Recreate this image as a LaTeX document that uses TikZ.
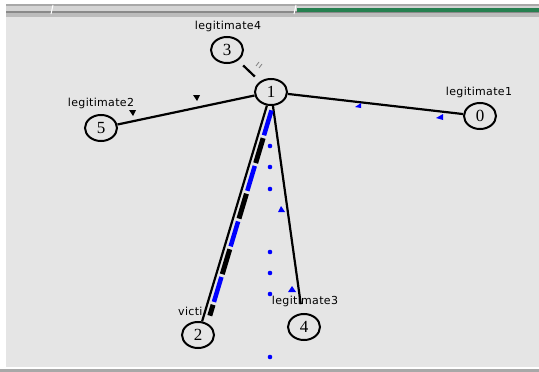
\documentclass[tikz,border=0pt]{standalone}
\usepackage{fontspec}
\setmainfont{Liberation Serif}
\newfontfamily\labfont[LetterSpace=3]{DejaVu Sans}
\usetikzlibrary{shapes.geometric}
\definecolor{canvasbg}{RGB}{229,229,229}
\definecolor{barhi}{RGB}{212,212,212}
\definecolor{barmid}{RGB}{168,168,168}
\definecolor{bardark}{RGB}{138,138,138}
\definecolor{barlow}{RGB}{188,188,188}
\definecolor{progress}{RGB}{38,128,80}
\definecolor{pktblue}{RGB}{0,0,255}
\begin{document}
\begin{tikzpicture}[x=1pt,y=-1pt,
  nd/.style={ellipse,draw=black,line width=2pt,minimum width=32pt,
             minimum height=26pt,inner sep=0pt,font=\fontsize{17}{17}\selectfont},
  lab/.style={font=\labfont\fontsize{11}{12}\selectfont,inner sep=0pt},
  link/.style={line width=2.2pt,black},
  pkt/.style={fill=pktblue},
  dot/.style={fill=pktblue}]
\useasboundingbox (0,0) rectangle (539,372);
\fill[white] (0,0) rectangle (539,372);
% window frame: toolbar strip on top, canvas below
\fill[barmid]  (6,4)  rectangle (539,6);
\fill[barhi]   (6,6)  rectangle (539,11);
\fill[bardark] (6,11) rectangle (539,13);
\fill[barlow]  (6,13) rectangle (539,17);
\fill[progress] (297,8) rectangle (539,12);
\draw[white,line width=1pt] (51,14) -- (53,5);
\draw[white,line width=1pt] (294,14) -- (296,5);
\fill[canvasbg] (6,17) rectangle (539,367);
\fill[barmid] (0,369) rectangle (539,372);

% labels
\node[lab] (l4) at (228,26)  {legitimate4};
\node[lab] (l2) at (101,103) {legitimate2};
\node[lab] (l1) at (479,92)  {legitimate1};
\node[lab] (l3) at (305,301) {legitimate3};
\node[lab,anchor=west] (lv) at (178,311) {victi};

% nodes
\node[nd] (n1) at (271,92)  {1};
\node[nd] (n3) at (227,50)  {3};
\node[nd] (n5) at (101,128) {5};
\node[nd] (n0) at (480,116) {0};
\node[nd] (n2) at (198,335) {2};
\node[nd] (n4) at (304,327) {4};

% links
\draw[link] (n5) -- (n1);
\draw[link] (n1) -- (n0);
\draw[link,shorten <=7pt,shorten >=7pt] (n3) -- (n1);
\draw[link] (n1) -- (n2);
\draw[link,shorten >=9pt] (n1) -- (n4);

% queued packets on the 1-2 link
\begin{scope}[transform canvas={shift={(6pt,0pt)}}]
  \draw[pktblue,line width=4.5pt,shorten <=5pt,shorten >=6pt,
        dash pattern=on 26pt off 32pt] (n1) -- (n2);
  \draw[black,line width=5pt,shorten <=5pt,shorten >=6pt,
        dash pattern=on 26pt off 32pt,dash phase=-29pt] (n1) -- (n2);
\end{scope}

% small marks on the 3-1 link
\draw[gray,line width=0.8pt] (256,66) -- (259,62);
\draw[gray,line width=0.8pt] (259,68) -- (262,64);

% packets in flight
\fill[black] (129,110) -- (136,110) -- (133,116) -- cycle;
\fill[black] (193,95) -- (200,95) -- (197,101) -- cycle;
\fill[pkt] (355,107) -- (361,103) -- (361,108) -- cycle;
\fill[pkt] (436,118) -- (443,114) -- (443,120) -- cycle;
\fill[pkt] (278,212) -- (285,212) -- (281,206) -- cycle;
\fill[pkt] (288,292) -- (296,292) -- (292,286) -- cycle;

% dropped packets falling from node 1
\foreach \yy in {146,167,189,252,273,294,357}
  \fill[dot] (270,\yy) circle (2.3pt);
\end{tikzpicture}
\end{document}
